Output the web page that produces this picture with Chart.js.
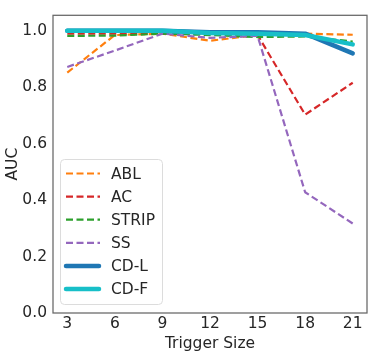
<!DOCTYPE html>
<html>
<head>
<meta charset="utf-8">
<script src="https://cdn.jsdelivr.net/npm/chart.js@4/dist/chart.umd.min.js"></script>
<style>
html,body{margin:0;padding:0;background:#fff;}
#wrap{width:373px;height:355px;}
</style>
</head>
<body>
<div id="wrap"><canvas id="c" width="373" height="355"></canvas></div>
<script>
const triggerSizes = [3, 6, 9, 12, 15, 18, 21];
const yTicks = [0.0, 0.2, 0.4, 0.6, 0.8, 1.0];
const seriesNames = ["ABL", "AC", "STRIP", "SS", "CD-L", "CD-F"];
const ablValues   = [0.852, 0.985, 0.99, 0.965, 0.985, 0.99, 0.986];
const acValues    = [0.99, 0.99, 0.99, 0.99, 0.985, 0.703, 0.816];
const stripValues = [0.982, 0.983, 0.99, 0.985, 0.978, 0.98, 0.962];
const ssValues    = [0.872, 0.93, 0.99, 0.975, 0.982, 0.428, 0.317];
const cdlValues   = [1.0, 1.0, 1.0, 0.995, 0.995, 0.99, 0.92];
const cdfValues   = [1.0, 1.0, 1.0, 0.992, 0.99, 0.985, 0.952];

const colors = ["#ff7f0e", "#d62728", "#2ca02c", "#9467bd", "#1f77b4", "#17bfc8"];
const allValues = [ablValues, acValues, stripValues, ssValues, cdlValues, cdfValues];
const dashed = [true, true, true, true, false, false];
const FONT = "'DejaVu Sans', sans-serif";
const TXT = "#262626";

const datasets = seriesNames.map((name, i) => ({
  label: name,
  data: triggerSizes.map((x, j) => ({x: x, y: allValues[i][j]})),
  borderColor: colors[i],
  backgroundColor: colors[i],
  borderWidth: dashed[i] ? 2.2 : 4.5,
  borderDash: dashed[i] ? [7, 3.5] : [],
  borderCapStyle: dashed[i] ? 'butt' : 'round',
  borderJoinStyle: 'round',
  pointRadius: 0,
  tension: 0,
  fill: false,
  order: seriesNames.length - i
}));

const framePlugin = {
  id: 'frame',
  afterDatasetsDraw(chart) {
    const a = chart.chartArea, ctx = chart.ctx;
    ctx.save();
    ctx.strokeStyle = '#666';
    ctx.lineWidth = 1.25;
    ctx.strokeRect(a.left, a.top, a.right - a.left, a.bottom - a.top);
    ctx.restore();
  }
};

const legendPlugin = {
  id: 'mplLegend',
  afterDraw(chart) {
    const ctx = chart.ctx;
    const x0 = 60.5, y0 = 159.5, w = 102, h = 145, r = 4;
    ctx.save();
    ctx.beginPath();
    ctx.moveTo(x0 + r, y0);
    ctx.arcTo(x0 + w, y0, x0 + w, y0 + h, r);
    ctx.arcTo(x0 + w, y0 + h, x0, y0 + h, r);
    ctx.arcTo(x0, y0 + h, x0, y0, r);
    ctx.arcTo(x0, y0, x0 + w, y0, r);
    ctx.closePath();
    ctx.fillStyle = 'rgba(255,255,255,0.85)';
    ctx.fill();
    ctx.strokeStyle = '#dcdcdc';
    ctx.lineWidth = 1;
    ctx.stroke();
    ctx.font = "15.5px " + FONT;
    ctx.textBaseline = 'middle';
    ctx.fillStyle = TXT;
    seriesNames.forEach((name, i) => {
      const y = 173.5 + i * 23.1;
      ctx.beginPath();
      ctx.strokeStyle = colors[i];
      ctx.lineWidth = dashed[i] ? 2.2 : 4.5;
      ctx.setLineDash(dashed[i] ? [7, 3.5] : []);
      ctx.lineCap = dashed[i] ? 'butt' : 'round';
      ctx.moveTo(66, y);
      ctx.lineTo(dashed[i] ? 100 : 99, y);
      ctx.stroke();
      ctx.setLineDash([]);
      ctx.fillStyle = TXT;
      ctx.fillText(name, 111, y + 1);
    });
    ctx.restore();
  }
};

new Chart(document.getElementById('c'), {
  type: 'line',
  data: { datasets: datasets },
  plugins: [framePlugin, legendPlugin],
  options: {
    responsive: false,
    animation: false,
    devicePixelRatio: 1,
    layout: { padding: { top: 4, right: 6, left: 0, bottom: 0 } },
    plugins: { legend: { display: false }, tooltip: { enabled: false } },
    scales: {
      x: {
        type: 'linear',
        min: 2.1, max: 21.9,
        afterBuildTicks(scale) { scale.ticks = triggerSizes.map(v => ({value: v})); },
        afterFit(scale) { scale.height = 42; },
        grid: { display: false, drawTicks: false },
        border: { display: false },
        ticks: { font: { family: FONT, size: 15.5 }, color: TXT, padding: 2, maxRotation: 0, autoSkip: false },
        title: { display: true, text: 'Trigger Size', font: { family: FONT, size: 15.5 }, color: TXT, padding: { top: 0, bottom: 2 } }
      },
      y: {
        type: 'linear',
        min: 0, max: 1.055,
        afterBuildTicks(scale) { scale.ticks = yTicks.map(v => ({value: v})); },
        afterFit(scale) { scale.width = 53; },
        grid: { display: false, drawTicks: false },
        border: { display: false },
        ticks: { font: { family: FONT, size: 15.5 }, color: TXT, padding: 6, callback: v => v.toFixed(1) },
        title: { display: true, text: 'AUC', font: { family: FONT, size: 15.5 }, color: TXT, padding: { top: 4, bottom: 0 } }
      }
    }
  }
});
</script>
</body>
</html>
